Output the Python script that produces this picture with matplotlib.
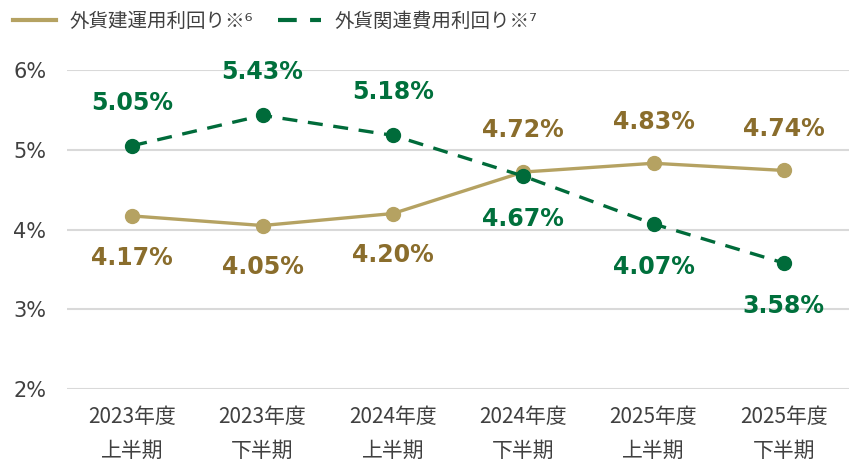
import matplotlib
matplotlib.use("Agg")
import matplotlib.pyplot as plt

plt.rcParams['font.family'] = ['Noto Sans CJK JP', 'DejaVu Sans']

categories = ["2023年度\n上半期", "2023年度\n下半期", "2024年度\n上半期",
              "2024年度\n下半期", "2025年度\n上半期", "2025年度\n下半期"]
foreign_yield = [4.17, 4.05, 4.20, 4.72, 4.83, 4.74]
cost_yield = [5.05, 5.43, 5.18, 4.67, 4.07, 3.58]
yticks = [2, 3, 4, 5, 6]

gold = '#B5A262'
gold_txt = '#8A6D2C'
green = '#006B3A'
green_txt = '#00703C'

fig = plt.figure(figsize=(8.49, 4.66), dpi=100)
ax = fig.add_axes([0.079, 0.165, 0.921, 0.685])

x = list(range(len(categories)))
ax.plot(x, foreign_yield, color=gold, lw=2.4, marker='o', ms=10,
        label='外貨建運用利回り※⁶', clip_on=False, zorder=3)
ax.plot(x, cost_yield, color=green, lw=2.4, ls=(0, (4.5, 3.2)), marker='o', ms=10,
        label='外貨関連費用利回り※⁷', clip_on=False, zorder=4)

lab_font = dict(family='DejaVu Sans', fontweight='bold', fontsize=17,
                ha='center', va='center')
for i, (a, b) in enumerate(zip(foreign_yield, cost_yield)):
    up = 1 if i >= 3 else -1
    ax.annotate(f"{a:.2f}%", (i, a), xytext=(0, 30 * up), textcoords='offset points',
                color=gold_txt, **lab_font)
    ax.annotate(f"{b:.2f}%", (i, b), xytext=(0, -31 * up), textcoords='offset points',
                color=green_txt, **lab_font)

ax.set_xlim(-0.5, 5.5)
ax.set_ylim(2, 6)
ax.set_yticks(yticks)
ax.set_yticklabels([f"{v}%" for v in yticks], family='DejaVu Sans', fontsize=15,
                   color='#404040')
ax.set_xticks(x)
ax.set_xticklabels(categories, fontsize=15, color='#404040', linespacing=1.7)
ax.tick_params(axis='y', length=0, pad=15)
ax.tick_params(axis='x', length=0, pad=12)
ax.grid(axis='y', color='#D9D9D9', lw=1.5)
ax.set_axisbelow(True)
for s in ax.spines.values():
    s.set_visible(False)

leg = fig.legend(loc='upper left', bbox_to_anchor=(-0.005, 1.015), ncol=2, frameon=False,
                 fontsize=14, handlelength=2.2, handletextpad=0.7, columnspacing=1.3,
                 labelcolor='#404040')
for h in leg.legend_handles:
    h.set_marker('')
    h.set_linewidth(3)

fig.savefig('out.png', dpi=100)
